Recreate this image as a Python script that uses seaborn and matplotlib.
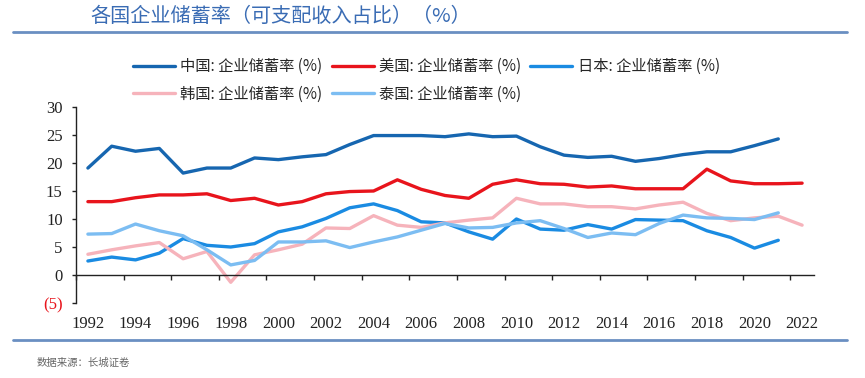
import numpy as np
import pandas as pd
import matplotlib
matplotlib.use("Agg")
import matplotlib.pyplot as plt
import seaborn as sns

OUT_PATH = "out.png"

years    = list(range(1992, 2023))
china    = [19.1, 23.0, 22.1, 22.6, 18.2, 19.1, 19.1, 20.9, 20.6, 21.1, 21.5, 23.3, 24.9, 24.9, 24.9, 24.7,
            25.2, 24.7, 24.8, 22.9, 21.4, 21.0, 21.2, 20.3, 20.8, 21.5, 22.0, 22.0, 23.1, 24.3, np.nan]
usa      = [13.1, 13.1, 13.8, 14.3, 14.3, 14.5, 13.3, 13.7, 12.5, 13.1, 14.5, 14.9, 15.0, 17.0, 15.3, 14.2,
            13.7, 16.2, 17.0, 16.3, 16.2, 15.7, 15.9, 15.4, 15.4, 15.4, 18.9, 16.8, 16.3, 16.3, 16.4]
japan    = [2.5, 3.2, 2.7, 3.9, 6.5, 5.3, 5.0, 5.6, 7.7, 8.6, 10.1, 12.0, 12.7, 11.5, 9.5, 9.3,
            7.7, 6.4, 10.0, 8.2, 8.0, 9.0, 8.2, 9.9, 9.8, 9.7, 7.9, 6.7, 4.8, 6.2, np.nan]
korea    = [3.7, 4.5, 5.2, 5.8, 2.9, 4.2, -1.3, 3.6, 4.5, 5.5, 8.4, 8.3, 10.6, 8.9, 8.5, 9.3,
            9.8, 10.2, 13.7, 12.7, 12.7, 12.2, 12.2, 11.8, 12.5, 13.0, 11.0, 9.7, 10.2, 10.5, 8.9]
thailand = [7.3, 7.4, 9.1, 7.9, 7.0, 4.5, 1.8, 2.6, 5.9, 5.9, 6.1, 4.9, 5.9, 6.8, 8.0, 9.2,
            8.4, 8.5, 9.3, 9.7, 8.3, 6.7, 7.5, 7.2, 9.2, 10.7, 10.2, 10.1, 9.9, 11.1, np.nan]

series_names = ["中国: 企业储蓄率 (%)", "美国: 企业储蓄率 (%)", "日本: 企业储蓄率 (%)",
                "韩国: 企业储蓄率 (%)", "泰国: 企业储蓄率 (%)"]
series_vals  = [china, usa, japan, korea, thailand]
colors       = ["#1666b0", "#e8141c", "#1a8be2", "#f6b3bb", "#7cbdf2"]

title_text  = "各国企业储蓄率（可支配收入占比）（%）"
source_text = "数据来源：长城证卷"

yticks      = [-5, 0, 5, 10, 15, 20, 25, 30]
ytick_text  = ["(5)", "0", "5", "10", "15", "20", "25", "30"]

SERIF = ["Liberation Serif", "DejaVu Serif"]

# long table for seaborn
frames = []
for name, vals in zip(series_names, series_vals):
    frames.append(pd.DataFrame({"year": years, "value": vals, "series": name}))
df = pd.concat(frames, ignore_index=True).dropna()

sns.set_style("white")
plt.rcParams["font.family"] = ["Noto Sans CJK SC", "DejaVu Sans"]

fig = plt.figure(figsize=(8.65, 3.78), dpi=100)
ax = fig.add_axes([76 / 865, 1 - 303 / 378, (814 - 76) / 865, (303 - 107) / 378])

sns.lineplot(
    data=df, x="year", y="value", hue="series",
    hue_order=series_names, palette=dict(zip(series_names, colors)),
    linewidth=2.4, errorbar=None, legend=False, ax=ax,
)

ax.set_xlim(1991.5, 2022.5)
ax.set_ylim(-5, 30)
ax.set_xlabel("")
ax.set_ylabel("")

for s in ["top", "right"]:
    ax.spines[s].set_visible(False)
ax.spines["left"].set_color("#222222")
ax.spines["left"].set_linewidth(1.0)
ax.spines["bottom"].set_position(("data", 0))
ax.spines["bottom"].set_color("#222222")
ax.spines["bottom"].set_linewidth(1.0)

# tick marks between year pairs on the zero line
ax.set_xticks(np.arange(1991.5, 2022.0, 2))
ax.tick_params(axis="x", labelbottom=False, length=3.6, width=1.0,
               direction="out", color="#222222", bottom=True)

ax.set_yticks(yticks)
ax.set_yticklabels(ytick_text)
ax.tick_params(axis="y", length=2.6, width=1.0, direction="out", color="#222222",
               pad=7, left=True, labelsize=12, labelcolor="#222222")

# year labels along the bottom edge
sec = ax.secondary_xaxis("bottom")
sec.set_xticks(years[::2])
sec.set_xticklabels([str(y) for y in years[::2]])
sec.tick_params(length=0, pad=9, labelsize=12, labelcolor="#222222")
sec.spines["bottom"].set_visible(False)

# legend, row-major order
handles = ax.get_lines()[:5]
order = [0, 3, 1, 4, 2]
fig.legend(
    [handles[i] for i in order], [series_names[i] for i in order],
    loc="upper left", bbox_to_anchor=(133 / 865, 1 - 58 / 378),
    ncol=3, frameon=False, fontsize=11, borderpad=0, borderaxespad=0,
    handlelength=2.75, handletextpad=0.35, columnspacing=0.6, labelspacing=0.7,
)

# header / footer decoration
fig.text(90 / 865, 1 - 17 / 378, title_text, fontsize=14.5, color="#3a6cb4",
         style="italic", va="center", ha="left")
fig.add_artist(plt.Line2D([13 / 865, 847 / 865], [1 - 32 / 378] * 2,
                          color="#6a8fc2", linewidth=2.0))
fig.add_artist(plt.Line2D([13 / 865, 847 / 865], [1 - 340 / 378] * 2,
                          color="#6a8fc2", linewidth=2.0))
fig.text(37 / 865, 1 - 363 / 378, source_text, fontsize=7.5, color="#666666",
         va="center", ha="left")

# serif numbers on both axes (set after a draw so every tick label gets it)
fig.canvas.draw()
for lab in ax.get_yticklabels() + sec.get_xticklabels():
    lab.set_fontfamily(SERIF)
ax.get_yticklabels()[0].set_color("#e8141c")

fig.savefig(OUT_PATH, dpi=100)
plt.close(fig)
